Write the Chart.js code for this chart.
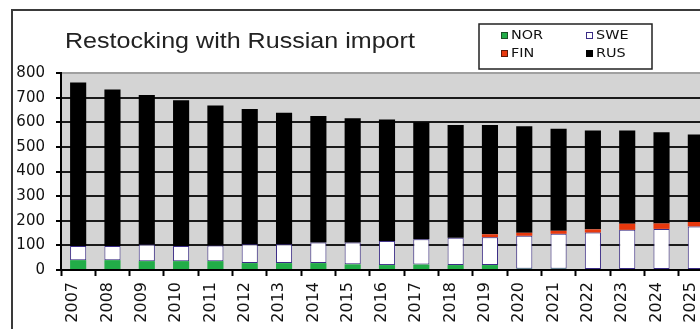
<!DOCTYPE html>
<html>
<head>
<meta charset="utf-8">
<script src="https://cdn.jsdelivr.net/npm/chart.js@4.4.0/dist/chart.umd.min.js"></script>
<style>
  html, body { margin: 0; padding: 0; background: #fff; overflow: hidden; }
  canvas { display: block; }
</style>
</head>
<body>
<canvas id="chart" width="730" height="329"></canvas>
<script>
// restocking volumes per year, stacked bottom to top: NOR, SWE, FIN, RUS
const years = ['2007', '2008', '2009', '2010', '2011', '2012', '2013', '2014', '2015', '2016',
               '2017', '2018', '2019', '2020', '2021', '2022', '2023', '2024', '2025'];
const nor = [40, 40, 36, 36, 36, 28, 28, 28, 23, 20, 22, 20, 20, 5, 5, 4, 4, 4, 4];
const swe = [57, 57, 68, 61, 64, 77, 77, 84, 89, 98, 103, 111, 113, 134, 142, 148, 159, 163, 173];
const fin = [0, 0, 0, 0, 0, 0, 0, 0, 0, 0, 0, 0, 12, 12, 12, 13, 25, 22, 18];
const rus = [664, 636, 607, 592, 568, 549, 534, 513, 504, 493, 475, 458, 444, 433, 415, 402, 379, 370, 355];
const yTicks = [0, 100, 200, 300, 400, 500, 600, 700, 800];
const chartTitle = 'Restocking with Russian import';

const decorations = {
    id: 'decorations',
    beforeDraw(chart) {
        const { ctx, chartArea: a } = chart;
        ctx.save();
        // grey plot background
        ctx.fillStyle = '#d4d4d4';
        ctx.fillRect(a.left, a.top, a.right - a.left, a.bottom - a.top);
        // outer frame
        ctx.strokeStyle = '#3a3a3a';
        ctx.lineWidth = 2;
        ctx.strokeRect(12, 10, chart.width, chart.height);
        ctx.restore();
    },
    afterDraw(chart) {
        const ctx = chart.ctx;
        ctx.save();

        // title
        ctx.fillStyle = '#222';
        ctx.font = '22px "Liberation Sans", Arial, sans-serif';
        ctx.textBaseline = 'alphabetic';
        ctx.translate(65, 48);
        ctx.scale(1.14, 1);
        ctx.fillText(chartTitle, 0, 0);
        ctx.setTransform(1, 0, 0, 1, 0, 0);

        // legend box, two columns
        ctx.fillStyle = '#fff';
        ctx.fillRect(479, 24, 173, 45);
        ctx.strokeStyle = '#222';
        ctx.lineWidth = 1.5;
        ctx.strokeRect(479, 24, 173, 45);

        ctx.font = '12px "DejaVu Sans", sans-serif';
        ctx.textBaseline = 'middle';
        chart.data.datasets.forEach((ds, i) => {
            const x = 501 + (i % 2) * 85;
            const y = 35.5 + Math.floor(i / 2) * 18;
            ctx.fillStyle = ds.backgroundColor;
            ctx.fillRect(x, y - 3.5, 7, 7);
            ctx.strokeStyle = ds.legendEdge;
            ctx.lineWidth = 1;
            ctx.strokeRect(x + 0.5, y - 3, 6, 6);
            ctx.fillStyle = '#111';
            ctx.save();
            ctx.translate(x + 10, y);
            ctx.scale(1.2, 1);
            ctx.fillText(ds.label, 0, 0);
            ctx.restore();
        });
        ctx.restore();
    }
};

const ctx = document.getElementById('chart').getContext('2d');
new Chart(ctx, {
    type: 'bar',
    data: {
        labels: years,
        datasets: [
            { label: 'NOR', data: nor, backgroundColor: '#22ad48', legendEdge: '#1d4f27' },
            { label: 'SWE', data: swe, backgroundColor: '#ffffff', borderColor: '#3a2b86', borderWidth: 1, borderSkipped: false, legendEdge: '#3a2b86' },
            { label: 'FIN', data: fin, backgroundColor: '#e8380d', legendEdge: '#5a1a0a' },
            { label: 'RUS', data: rus, backgroundColor: '#000000', legendEdge: '#000000' }
        ]
    },
    options: {
        responsive: false,
        animation: false,
        devicePixelRatio: 1,
        layout: { padding: { top: 73, right: 17, left: 0, bottom: 0 } },
        datasets: { bar: { barPercentage: 0.47, categoryPercentage: 1 } },
        plugins: {
            legend: { display: false },
            title: { display: false },
            tooltip: { enabled: false }
        },
        scales: {
            x: {
                stacked: true,
                grid: { offset: true, drawOnChartArea: false, tickLength: 6, tickColor: '#000', tickWidth: 2 },
                border: { color: '#000', width: 2 },
                ticks: {
                    autoSkip: false,
                    minRotation: 90,
                    maxRotation: 90,
                    labelOffset: -5,
                    padding: 6,
                    color: '#111',
                    font: { family: 'DejaVu Sans', size: 16 }
                },
                afterFit(scale) { scale.height = 59; }
            },
            y: {
                stacked: true,
                min: 0,
                max: 800,
                afterBuildTicks(scale) { scale.ticks = yTicks.map(v => ({ value: v })); },
                grid: {
                    color: c => (c.tick && c.tick.value === 800 ? '#a0a0a0' : '#1a1a1a'),
                    lineWidth: 2,
                    tickLength: 5,
                    tickColor: '#000'
                },
                border: { color: '#000', width: 2 },
                ticks: { padding: 11, color: '#111', font: { family: 'DejaVu Sans', size: 15 } },
                afterFit(scale) { scale.width = 61; }
            }
        }
    },
    plugins: [decorations]
});
</script>
</body>
</html>
